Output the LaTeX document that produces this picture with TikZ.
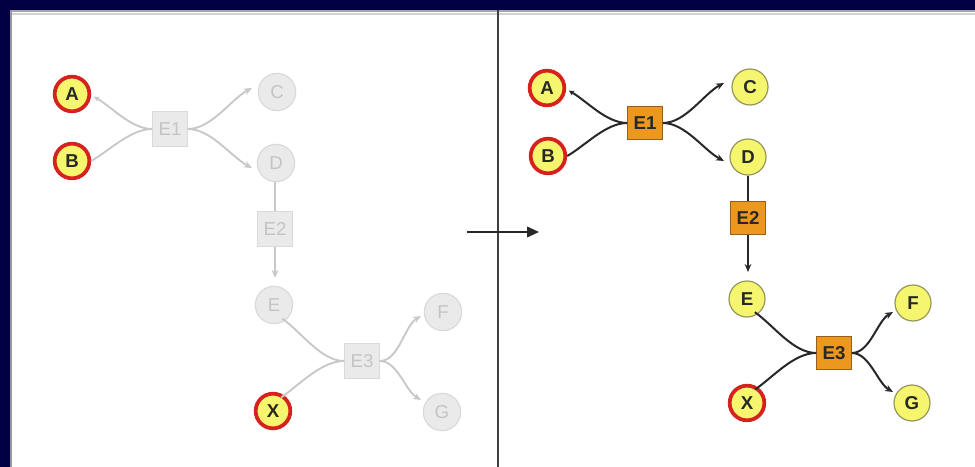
\documentclass[tikz,border=0pt]{standalone}
\usepackage{fontspec}
\setmainfont{Liberation Sans}
\usetikzlibrary{arrows.meta}
\definecolor{navy}{RGB}{0,0,66}
\definecolor{spot}{RGB}{246,246,110}
\definecolor{ring}{RGB}{214,34,30}
\definecolor{olive}{RGB}{150,150,90}
\definecolor{enz}{RGB}{236,152,30}
\definecolor{enzline}{RGB}{150,95,30}
\definecolor{ink}{RGB}{40,40,40}
\definecolor{fadefill}{RGB}{234,234,234}
\definecolor{fadeline}{RGB}{218,218,218}
\definecolor{fadetext}{RGB}{196,196,196}
\definecolor{fadeedge}{RGB}{200,200,200}
\tikzset{
  lbl/.style={font=\bfseries\fontsize{14}{14}\selectfont},
  metab/.style={circle, lbl, minimum size=27pt, inner sep=0pt, fill=spot, draw=olive, line width=0.9pt, text=ink},
  source/.style={metab, draw=ring, line width=2.8pt, minimum size=26pt},
  enzyme/.style={rectangle, lbl, minimum width=26pt, minimum height=25pt, inner sep=0pt, fill=enz, draw=enzline, line width=0.7pt, text=ink},
  fmetab/.style={circle, font=\fontsize{14}{14}\selectfont, minimum size=28pt, inner sep=0pt, fill=fadefill, draw=fadeline, line width=0.9pt, text=fadetext},
  fenzyme/.style={rectangle, font=\fontsize{14}{14}\selectfont, minimum width=26pt, minimum height=26pt, inner sep=0pt, fill=fadefill, draw=fadeline, line width=0.7pt, text=fadetext},
  flux/.style={draw=ink, line width=1.5pt},
  fflux/.style={draw=fadeedge, line width=1.4pt},
  tip/.style={-{Stealth[length=6pt,width=5pt]}},
  back/.style={{Stealth[length=4pt,width=4pt]}-},
}
\begin{document}
\begin{tikzpicture}[x=0.75pt,y=-0.75pt]
\useasboundingbox (0,0) rectangle (975,467);
\fill[navy] (0,0) rectangle (975,467);
\fill[white] (10,10) rectangle (975,467);
% panel frame shading
\draw[gray!70, line width=1.6pt] (10.5,11) -- (975,11);
\draw[gray!35, line width=2pt] (12,14) -- (975,14);
\draw[gray!80, line width=1.5pt] (10.5,10) -- (10.5,467);
% divider
\draw[gray!50!black, line width=1.4pt] (498,10) -- (498,467);

% ---------- before: only sources active ----------
\node[source] (lA) at (72,94) {A};
\node[source] (lB) at (72,161) {B};
\node[source] (lX) at (273,411) {X};
\node[fmetab] (lC) at (277,92) {C};
\node[fmetab] (lD) at (276,163) {D};
\node[fmetab] (lE) at (274,305) {E};
\node[fmetab] (lF) at (443,312) {F};
\node[fmetab] (lG) at (442,412) {G};
\node[fenzyme] (lE1) at (170,129) {E1};
\node[fenzyme] (lE2) at (275,229) {E2};
\node[fenzyme] (lE3) at (362,361) {E3};

\coordinate (lCin) at (252,88);
\coordinate (lDin) at (252,168);
\coordinate (lEin) at (275,278);
\coordinate (lFin) at (421,316);
\coordinate (lGin) at (421,400);

\draw[fflux, back] ([xshift=2pt,yshift=-2pt]lA.east) to[out=-30,in=180,looseness=0.8] (lE1.west);
\draw[fflux] (lB.east) to[out=30,in=180,looseness=0.8] (lE1.west);
\draw[fflux, tip] (lE1.east) to[out=0,in=208,looseness=0.8] (lCin);
\draw[fflux, tip] (lE1.east) to[out=0,in=152,looseness=0.8] (lDin);
\draw[fflux] (lE2.north |- lD.south) -- (lE2.north);
\draw[fflux, tip] (lE2.south) -- (lEin);
\draw[fflux] ([xshift=-4pt]lE.south east) to[out=-35,in=180,looseness=0.8] (lE3.west);
\draw[fflux] ([xshift=-4pt]lX.north east) to[out=35,in=180,looseness=0.8] (lE3.west);
\draw[fflux, tip] (lE3.east) to[out=0,in=210,looseness=0.8] (lFin);
\draw[fflux, tip] (lE3.east) to[out=0,in=150,looseness=0.8] (lGin);

% transition arrow
\coordinate (mS) at (467,232);
\coordinate (mT) at (539,232);
\draw[ink, line width=1.3pt, -{Triangle[length=9pt,width=8pt]}] (mS) -- (mT);

% ---------- after: whole pathway active ----------
\node[source] (rA) at (547,88) {A};
\node[source] (rB) at (548,156) {B};
\node[source] (rX) at (747,403) {X};
\node[metab] (rC) at (750,87) {C};
\node[metab] (rD) at (748,157) {D};
\node[metab] (rE) at (747,299) {E};
\node[metab] (rF) at (913,303) {F};
\node[metab] (rG) at (912,403) {G};
\node[enzyme] (rE1) at (645,123) {E1};
\node[enzyme] (rE2) at (748,218) {E2};
\node[enzyme] (rE3) at (834,353) {E3};

\coordinate (rCin) at (724,83);
\coordinate (rDin) at (724,161);
\coordinate (rEin) at (748,272);
\coordinate (rFin) at (893,312);
\coordinate (rGin) at (893,392);

\draw[flux, back] ([xshift=2pt,yshift=-2pt]rA.east) to[out=-30,in=180,looseness=0.8] (rE1.west);
\draw[flux] (rB.east) to[out=30,in=180,looseness=0.8] (rE1.west);
\draw[flux, tip] (rE1.east) to[out=0,in=208,looseness=0.8] (rCin);
\draw[flux, tip] (rE1.east) to[out=0,in=152,looseness=0.8] (rDin);
\draw[flux] (rE2.north |- rD.south) -- (rE2.north);
\draw[flux, tip] (rE2.south) -- (rEin);
\draw[flux] ([xshift=-4pt]rE.south east) to[out=-35,in=180,looseness=0.8] (rE3.west);
\draw[flux] ([xshift=-4pt]rX.north east) to[out=35,in=180,looseness=0.8] (rE3.west);
\draw[flux, tip] (rE3.east) to[out=0,in=210,looseness=0.8] (rFin);
\draw[flux, tip] (rE3.east) to[out=0,in=150,looseness=0.8] (rGin);
\end{tikzpicture}
\end{document}
